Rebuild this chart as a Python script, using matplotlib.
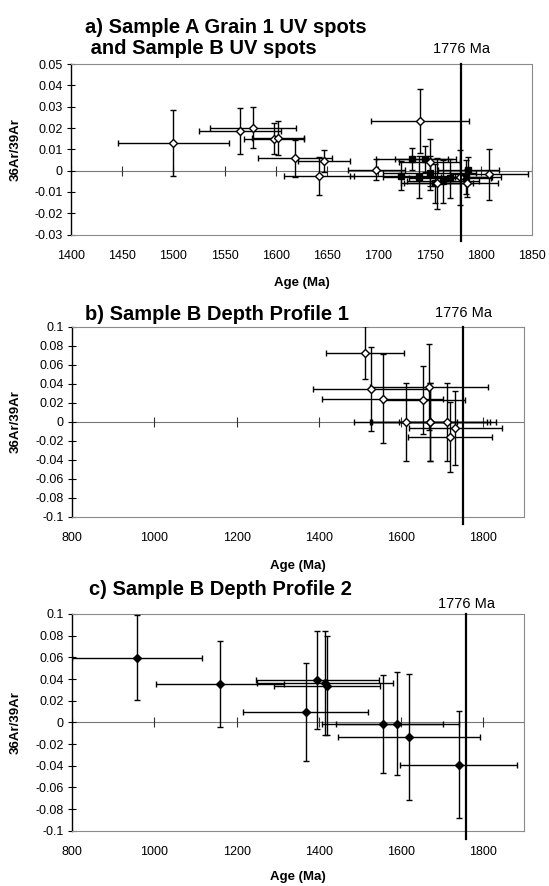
import numpy as np
import matplotlib.pyplot as plt

plt.rcParams['font.family'] = ['Liberation Sans', 'DejaVu Sans']

# a) Sample A grain 1 UV spots (open diamonds)
a_age = [1500, 1565, 1578, 1598, 1602, 1619, 1647, 1642, 1698, 1741, 1750, 1757, 1780, 1787, 1808]
a_age_err = [54, 40, 42, 29, 25, 36, 25, 34, 28, 48, 30, 35, 40, 30, 38]
a_ratio = [0.0129, 0.0187, 0.0202, 0.0149, 0.0155, 0.0058, 0.0047, -0.0025, 0.0005,
           0.0234, 0.0039, -0.0059, -0.0031, -0.0059, -0.0017]
a_ratio_err = [0.0155, 0.0107, 0.0098, 0.0073, 0.008, 0.0086, 0.0052, 0.0088, 0.005,
               0.015, 0.011, 0.012, 0.013, 0.0065, 0.012]

# a) Sample B UV spots (filled squares)
buv_age = [1722, 1733, 1740, 1746, 1750, 1755, 1763, 1770, 1786, 1788]
buv_age_err = [50, 35, 35, 30, 45, 30, 35, 40, 25, 30]
buv_ratio = [-0.0023, 0.0055, -0.003, 0.0055, -0.0012, -0.006, -0.005, -0.0036, -0.003, 0.0003]
buv_ratio_err = [0.007, 0.005, 0.01, 0.006, 0.008, 0.009, 0.01, 0.009, 0.008, 0.006]

# b) Sample B depth profile 1
dp1_age = [1513, 1527, 1556, 1612, 1655, 1669, 1671, 1671, 1713, 1720, 1733]
dp1_age_err = [94, 141, 147, 125, 101, 143, 140, 146, 118, 102, 114]
dp1_ratio = [0.0726, 0.0347, 0.0242, 0.0, 0.0228, 0.0368, 0.0, 0.0, 0.0, -0.0158, -0.007]
dp1_ratio_err = [0.028, 0.044, 0.047, 0.041, 0.036, 0.045, 0.041, 0.041, 0.041, 0.037, 0.039]

# c) Sample B depth profile 2
dp2_age = [958, 1160, 1368, 1397, 1415, 1420, 1556, 1591, 1620, 1741]
dp2_age_err = [158, 155, 153, 150, 165, 130, 147, 150, 172, 142]
dp2_ratio = [0.0597, 0.0355, 0.0094, 0.039, 0.036, 0.034, -0.0014, -0.0014, -0.0137, -0.0389]
dp2_ratio_err = [0.039, 0.040, 0.045, 0.045, 0.048, 0.046, 0.045, 0.0475, 0.058, 0.049]

# reference line as drawn in each panel, and its label
ref_age = [1781, 1752, 1759]
ref_text = '1776 Ma'

a_xticks = list(range(1400, 1851, 50))
bc_xticks = list(range(800, 1801, 200))
a_yticks = [0.05, 0.04, 0.03, 0.02, 0.01, 0, -0.01, -0.02, -0.03]
a_ylabels = ['0.05', '0.04', '0.03', '0.02', '0.01', '0', '-0.01', '-0.02', '-0.03']
bc_yticks = [0.1, 0.08, 0.06, 0.04, 0.02, 0, -0.02, -0.04, -0.06, -0.08, -0.1]
bc_ylabels = ['0.1', '0.08', '0.06', '0.04', '0.02', '0', '-0.02', '-0.04', '-0.06', '-0.08', '-0.1']


def style(ax, xlim, xticks, ylim, yticks, ylabels):
    ax.set_xlim(xlim)
    ax.set_ylim(ylim)
    ax.set_xticks(xticks)
    ax.set_xticklabels([str(t) for t in xticks])
    ax.tick_params(axis='x', length=0, pad=11, labelsize=9)
    ax.set_yticks(yticks)
    ax.set_yticklabels(ylabels)
    ax.tick_params(axis='y', direction='inout', length=6, width=0.8, labelsize=9, pad=3)
    for side in ['top', 'right', 'bottom']:
        ax.spines[side].set_color('#8a8a8a')
        ax.spines[side].set_linestyle((0, (1, 1)))
        ax.spines[side].set_linewidth(0.8)
    ax.spines['left'].set_linewidth(1.0)
    # excel-like category axis crossing at zero
    ax.axhline(0, color='#777777', lw=0.8, zorder=1)
    ax.plot(xticks, np.zeros(len(xticks)), '|', ms=7, mew=0.8, color='#333333', zorder=1)
    ax.set_xlabel('Age (Ma)', fontsize=9.5, fontweight='bold')
    ax.set_ylabel('36Ar/39Ar', fontsize=9.5, fontweight='bold')


def bars(ax, x, y, xe, ye, marker, face, ms):
    ax.errorbar(x, y, xerr=xe, yerr=ye, fmt=marker, mfc=face, mec='black', mew=1.0, ms=ms,
                ecolor='black', elinewidth=1.0, capsize=2.5, capthick=1.0, zorder=3)


fig = plt.figure(figsize=(5.49, 8.86), dpi=100)
ax_a = fig.add_axes([0.1293, 0.7352, 0.8397, 0.1925])
ax_b = fig.add_axes([0.1317, 0.4168, 0.8228, 0.2144])
ax_c = fig.add_axes([0.1317, 0.0624, 0.8228, 0.2446])

style(ax_a, (1400, 1850), a_xticks, (-0.03, 0.05), a_yticks, a_ylabels)
style(ax_b, (800, 1900), bc_xticks, (-0.1, 0.1), bc_yticks, bc_ylabels)
style(ax_c, (800, 1900), bc_xticks, (-0.1, 0.1), bc_yticks, bc_ylabels)

bars(ax_a, buv_age, buv_ratio, buv_age_err, buv_ratio_err, 's', 'black', 4)
bars(ax_a, a_age, a_ratio, a_age_err, a_ratio_err, 'D', 'white', 4)
bars(ax_b, dp1_age, dp1_ratio, dp1_age_err, dp1_ratio_err, 'D', 'white', 4.5)
bars(ax_c, dp2_age, dp2_ratio, dp2_age_err, dp2_ratio_err, 'D', 'black', 4.5)

ax_a.yaxis.set_label_coords(-0.108, 0.5)
ax_b.yaxis.set_label_coords(-0.113, 0.5)
ax_c.yaxis.set_label_coords(-0.113, 0.5)
ax_a.xaxis.set_label_coords(0.5, -0.25)
ax_b.xaxis.set_label_coords(0.5, -0.228)
ax_c.xaxis.set_label_coords(0.5, -0.185)

# reference lines and labels
label_y = [1.09, 1.075, 1.048]
for ax, xr, ly in zip([ax_a, ax_b, ax_c], ref_age, label_y):
    ax.axvline(xr, ymin=-0.04, ymax=1.0, color='black', lw=1.6, clip_on=False, zorder=4)
    ax.text(xr, ly, ref_text, transform=ax.get_xaxis_transform(), ha='center', va='center',
            fontsize=10.5)

ax_a.text(0.03, 1.215, 'a) Sample A Grain 1 UV spots', transform=ax_a.transAxes,
          ha='left', va='center', fontsize=14.5, fontweight='bold')
ax_a.text(0.03, 1.09, ' and Sample B UV spots', transform=ax_a.transAxes,
          ha='left', va='center', fontsize=14.5, fontweight='bold')
ax_b.text(0.028, 1.067, 'b) Sample B Depth Profile 1', transform=ax_b.transAxes,
          ha='left', va='center', fontsize=14.5, fontweight='bold')
ax_c.text(0.037, 1.111, 'c) Sample B Depth Profile 2', transform=ax_c.transAxes,
          ha='left', va='center', fontsize=14.5, fontweight='bold')

fig.savefig('out.png', dpi=100)
